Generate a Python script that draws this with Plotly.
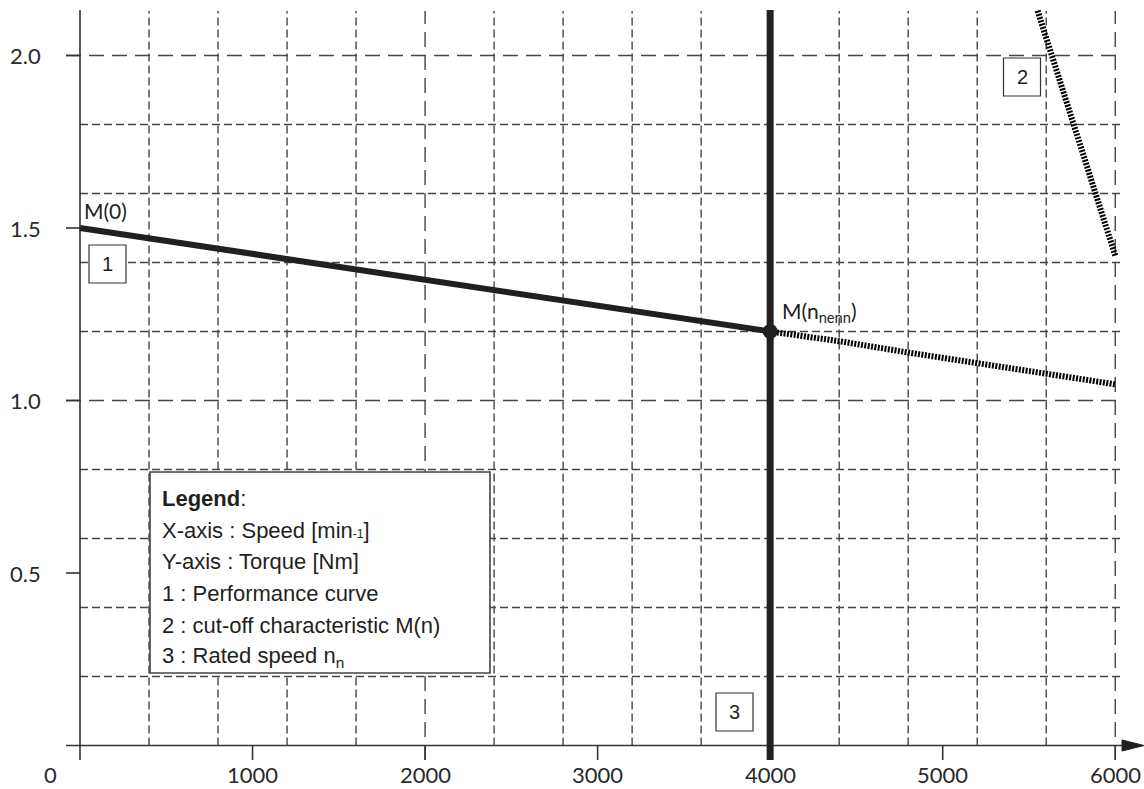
import plotly.graph_objects as go

# ---------------- data ----------------
perf_speed = [0, 4000]
perf_torque = [1.5, 1.2]

ext_speed = [4000, 4400, 4800, 5200, 5600, 6000]
ext_torque = [1.2, 1.172, 1.139, 1.108, 1.079, 1.047]

cutoff_speed = [5550, 6000]
cutoff_torque = [2.13, 1.42]

rated_speed = 4000
rated_point_torque = 1.2

x_tick_vals = [0, 1000, 2000, 3000, 4000, 5000, 6000]
x_tick_text = ["0", "1000", "2000", "3000", "4000", "5000", "6000"]
y_tick_vals = [0.5, 1.0, 1.5, 2.0]
y_tick_text = ["0.5", "1.0", "1.5", "2.0"]

legend_lines = [
    "<b>Legend</b>:",
    "X-axis : Speed [min<span style='font-size:12px'>-1</span>]",
    "Y-axis : Torque [Nm]",
    "1 : Performance curve",
    "2 : cut-off characteristic M(n)",
    "3 : Rated speed n<sub>n</sub>",
]

# ---------------- geometry helpers (pixel -> data) ----------------
PX_PER_X = 0.17254
X0_PX = 80.0
PX_PER_Y = 345.0
Y0_PX = 745.5
W, H = 1144, 789


def dx(px):
    return (px - X0_PX) / PX_PER_X


def dy(py):
    return (Y0_PX - py) / PX_PER_Y


INK = "#231f20"
GRID = "#454545"
TOP = dy(11)
BOTTOM_EXT = dy(760)
LEFT_EXT = dx(66)
RIGHT_GRID = dx(1124)

fig = go.Figure()
shapes = []

# vertical grid lines
v = 400
while v <= 6000:
    if v != 4000:
        major = (v % 2000 == 0)
        shapes.append(dict(type="line", xref="x", yref="y", layer="below",
                           x0=v, x1=v, y0=BOTTOM_EXT if major else 0, y1=TOP,
                           line=dict(color=GRID, width=1.4,
                                     dash="15px,8px" if major else "8px,4px")))
    v += 400

# horizontal grid lines
for i in range(1, 11):
    yv = round(i * 0.2, 1)
    major = abs(yv - round(yv)) < 1e-9
    shapes.append(dict(type="line", xref="x", yref="y", layer="below",
                       x0=LEFT_EXT if major else 0, x1=RIGHT_GRID, y0=yv, y1=yv,
                       line=dict(color=GRID, width=1.4,
                                 dash="15px,8px" if major else "8px,4px")))

# y-axis line and tick marks
shapes.append(dict(type="line", xref="x", yref="y", layer="below",
                   x0=0, x1=0, y0=BOTTOM_EXT, y1=dy(10),
                   line=dict(color="#333333", width=1.6)))
for yv in y_tick_vals:
    shapes.append(dict(type="line", xref="x", yref="y", layer="below",
                       x0=LEFT_EXT, x1=0, y0=yv, y1=yv,
                       line=dict(color="#333333", width=1.6)))

# x-axis line, ticks and arrow
arrow_base = dx(1122)
arrow_tip = dx(1144)
shapes.append(dict(type="line", xref="x", yref="y", layer="below",
                   x0=LEFT_EXT, x1=arrow_base, y0=0, y1=0,
                   line=dict(color="#333333", width=1.6)))
for xv in x_tick_vals[1:]:
    shapes.append(dict(type="line", xref="x", yref="y", layer="below",
                       x0=xv, x1=xv, y0=BOTTOM_EXT, y1=0,
                       line=dict(color="#333333", width=1.6)))
ah = 5.5 / PX_PER_Y
shapes.append(dict(type="path", xref="x", yref="y", layer="above",
                   path=f"M {arrow_base},{ah} L {arrow_tip},0 L {arrow_base},{-ah} Z",
                   fillcolor=INK, line=dict(color=INK, width=1)))

# legend box
shapes.append(dict(type="rect", xref="x", yref="y", layer="below",
                   x0=dx(150), x1=dx(490), y0=dy(673), y1=dy(472),
                   fillcolor="white", line=dict(color="#444444", width=1.6)))

# numbered label boxes
box_specs = [("1", 107.5, 264), ("2", 1022, 77), ("3", 734.5, 712)]
for _, cx, cy in box_specs:
    shapes.append(dict(type="rect", xref="x", yref="y", layer="above",
                       x0=dx(cx - 18.5), x1=dx(cx + 18.5),
                       y0=dy(cy + 19), y1=dy(cy - 19),
                       fillcolor="white", line=dict(color="#333333", width=1.2)))

# ---------------- traces ----------------
fig.add_trace(go.Scatter(x=[rated_speed, rated_speed], y=[BOTTOM_EXT, dy(10)],
                         mode="lines", line=dict(color=INK, width=7),
                         hoverinfo="skip"))
fig.add_trace(go.Scatter(x=ext_speed, y=ext_torque, mode="lines",
                         line=dict(color="#000000", width=6, dash="2px,1.4px"),
                         hoverinfo="skip"))
fig.add_trace(go.Scatter(x=cutoff_speed, y=cutoff_torque, mode="lines",
                         line=dict(color="#000000", width=6, dash="2px,1.4px"),
                         hoverinfo="skip"))
fig.add_trace(go.Scatter(x=perf_speed, y=perf_torque, mode="lines",
                         line=dict(color=INK, width=6),
                         hoverinfo="skip"))
fig.add_trace(go.Scatter(x=[rated_speed], y=[rated_point_torque], mode="markers",
                         marker=dict(color=INK, size=15),
                         hoverinfo="skip"))

# ---------------- annotations ----------------
ann = []
TICK_FONT = dict(family="Lato", size=22, color="#2a2a2a")
for xv, t in zip(x_tick_vals, x_tick_text):
    xpos = dx(50) if xv == 0 else xv
    ann.append(dict(x=xpos, y=dy(774), xref="x", yref="y", text=t,
                    showarrow=False, font=TICK_FONT, xanchor="center", yanchor="middle"))
for yv, t in zip(y_tick_vals, y_tick_text):
    ann.append(dict(x=dx(8), y=yv, xref="x", yref="y", text=t,
                    showarrow=False, font=TICK_FONT, xanchor="left", yanchor="middle"))

ann.append(dict(x=dx(82), y=dy(210), xref="x", yref="y", text="M(0)",
                showarrow=False, font=dict(family="Lato", size=21, color=INK),
                xanchor="left", yanchor="middle"))
ann.append(dict(x=dx(780), y=dy(312), xref="x", yref="y",
                text="M(n<sub>nenn</sub>)",
                showarrow=False, font=dict(family="Lato", size=21, color=INK),
                xanchor="left", yanchor="middle"))

BOX_FONT = dict(family="Liberation Sans", size=20, color=INK)
for txt, cx, cy in box_specs:
    ann.append(dict(x=dx(cx), y=dy(cy), xref="x", yref="y", text=txt,
                    showarrow=False, font=BOX_FONT,
                    xanchor="center", yanchor="middle"))

LEG_FONT = dict(family="Liberation Sans", size=22, color=INK)
for line_txt, cy in zip(legend_lines, [498, 530, 561, 593, 625, 657]):
    ann.append(dict(x=dx(160), y=dy(cy), xref="x", yref="y", text=line_txt,
                    showarrow=False, font=LEG_FONT, xanchor="left", yanchor="middle"))

fig.update_layout(
    width=W, height=H,
    margin=dict(l=0, r=0, t=0, b=0, pad=0),
    paper_bgcolor="white", plot_bgcolor="white",
    showlegend=False,
    xaxis=dict(range=[dx(0), dx(W)], visible=False, fixedrange=True),
    yaxis=dict(range=[dy(H), dy(0)], visible=False, fixedrange=True),
    shapes=shapes,
    annotations=ann,
)

fig.write_html("out.html", config={"displayModeBar": False},
               post_script="document.body.style.margin='0';")
